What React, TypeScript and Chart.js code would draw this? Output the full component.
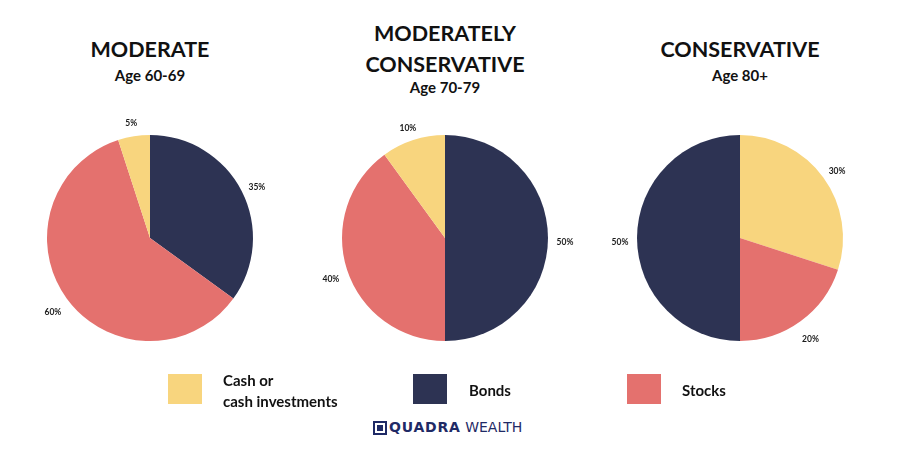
import React, { useEffect, useRef } from "react";
import { Chart, registerables } from "chart.js";

Chart.register(...registerables);

// ---- data ----
const categoryNames = ["Cash", "Bonds", "Stocks"];
const categoryColors = ["#F8D57E", "#2D3353", "#E4716E"];
const legendLabels = ["Cash or\ncash investments", "Bonds", "Stocks"];

const moderateOrder = ["Bonds", "Stocks", "Cash"];
const moderateValues = [35, 60, 5];
const modConsOrder = ["Bonds", "Stocks", "Cash"];
const modConsValues = [50, 40, 10];
const conservativeOrder = ["Cash", "Stocks", "Bonds"];
const conservativeValues = [30, 20, 50];

const pieTitles = [["MODERATE"], ["MODERATELY", "CONSERVATIVE"], ["CONSERVATIVE"]];
const pieSubtitles = ["Age 60-69", "Age 70-79", "Age 80+"];

const pies = [
  { order: moderateOrder, values: moderateValues },
  { order: modConsOrder, values: modConsValues },
  { order: conservativeOrder, values: conservativeValues },
];

// ---- layout ----
const centersX = [150, 445, 740];
const centerY = 238;
const CW = 280;
const CH = 270;

const pctLabels = {
  id: "pctLabels",
  afterDatasetsDraw(chart: any) {
    const { ctx } = chart;
    const meta = chart.getDatasetMeta(0);
    const ds = chart.data.datasets[0];
    ctx.save();
    ctx.font = "bold 8.5px Lato";
    ctx.fillStyle = "#1a1a1a";
    ctx.textAlign = "center";
    ctx.textBaseline = "middle";
    meta.data.forEach((arc: any, i: number) => {
      const p = arc.getProps(["x", "y", "startAngle", "endAngle", "outerRadius"], true);
      const mid = (p.startAngle + p.endAngle) / 2;
      const r = p.outerRadius + 17;
      ctx.fillText(`${ds.data[i]}%`, p.x + Math.cos(mid) * r, p.y + Math.sin(mid) * r + 4);
    });
    ctx.restore();
  },
};

function Pie({ idx }: { idx: number }) {
  const ref = useRef<HTMLCanvasElement>(null);
  useEffect(() => {
    const pie = pies[idx];
    const chart = new Chart(ref.current!, {
      type: "pie",
      data: {
        labels: pie.order,
        datasets: [
          {
            data: pie.values,
            backgroundColor: pie.order.map((c) => categoryColors[categoryNames.indexOf(c)]),
            borderWidth: 0,
            hoverOffset: 0,
            offset: 0,
          },
        ],
      },
      options: {
        responsive: false,
        animation: false,
        events: [],
        layout: { padding: { left: 37, right: 37, top: 32, bottom: 32 } },
        plugins: { legend: { display: false }, tooltip: { enabled: false }, title: { display: false } },
      },
      plugins: [pctLabels],
    });
    return () => chart.destroy();
  }, [idx]);
  return (
    <canvas
      ref={ref}
      width={CW}
      height={CH}
      style={{ position: "absolute", left: centersX[idx] - CW / 2, top: centerY - CH / 2, width: CW, height: CH }}
    />
  );
}

const titleFont = "Lato, sans-serif";

export default function App() {
  const titleFs = 21.5;
  const subFs = 15;
  return (
    <div
      style={{
        position: "absolute",
        left: 0,
        top: 0,
        width: 900,
        height: 450,
        background: "#ffffff",
        overflow: "hidden",
        fontFamily: titleFont,
        color: "#111",
      }}
    >
      {pieTitles.map((lines, i) => {
        const baselines = lines.length === 1 ? [58] : [42, 73];
        const subBaseline = lines.length === 1 ? 80.5 : 92.5;
        return (
          <React.Fragment key={i}>
            {lines.map((t, j) => (
              <div
                key={j}
                style={{
                  position: "absolute",
                  left: centersX[i] - 150,
                  width: 300,
                  textAlign: "center",
                  top: baselines[j] - 0.987 * titleFs,
                  fontSize: titleFs,
                  lineHeight: `${1.2 * titleFs}px`,
                  fontWeight: 700,
                  whiteSpace: "nowrap",
                }}
              >
                {t}
              </div>
            ))}
            <div
              style={{
                position: "absolute",
                left: centersX[i] - 150,
                width: 300,
                textAlign: "center",
                top: subBaseline - 0.987 * subFs,
                fontSize: subFs,
                lineHeight: `${1.2 * subFs}px`,
                fontWeight: 700,
                whiteSpace: "nowrap",
              }}
            >
              {pieSubtitles[i]}
            </div>
          </React.Fragment>
        );
      })}

      {pies.map((_, i) => (
        <Pie key={i} idx={i} />
      ))}

      {/* legend */}
      {[
        { sq: 168, tx: 223 },
        { sq: 413, tx: 469 },
        { sq: 627, tx: 682 },
      ].map((pos, i) => {
        const lines = legendLabels[i].split("\n");
        const fs = 15;
        const baselines = lines.length === 1 ? [395.5] : [385.5, 407];
        return (
          <React.Fragment key={i}>
            <div
              style={{
                position: "absolute",
                left: pos.sq,
                top: 374,
                width: 34,
                height: 30,
                background: categoryColors[i],
              }}
            />
            {lines.map((t, j) => (
              <div
                key={j}
                style={{
                  position: "absolute",
                  left: pos.tx,
                  top: baselines[j] - 0.987 * fs,
                  fontSize: fs,
                  lineHeight: `${1.2 * fs}px`,
                  fontWeight: 700,
                  whiteSpace: "nowrap",
                }}
              >
                {t}
              </div>
            ))}
          </React.Fragment>
        );
      })}

      {/* logo */}
      <div
        style={{
          position: "absolute",
          left: 373,
          top: 421,
          width: 10,
          height: 10,
          border: "2px solid #1F2A66",
        }}
      >
        <div style={{ position: "absolute", left: 2, top: 2, width: 6, height: 6, background: "#1F2A66" }} />
      </div>
      <div
        style={{
          position: "absolute",
          left: 389,
          top: 419,
          fontFamily: "'DejaVu Sans', sans-serif",
          fontSize: 14,
          lineHeight: "17px",
          color: "#1F2A66",
          whiteSpace: "nowrap",
        }}
      >
        <span style={{ fontWeight: 700, letterSpacing: 0.8 }}>QUADRA</span>
        <span style={{ fontWeight: 400 }}> WEALTH</span>
      </div>
    </div>
  );
}
